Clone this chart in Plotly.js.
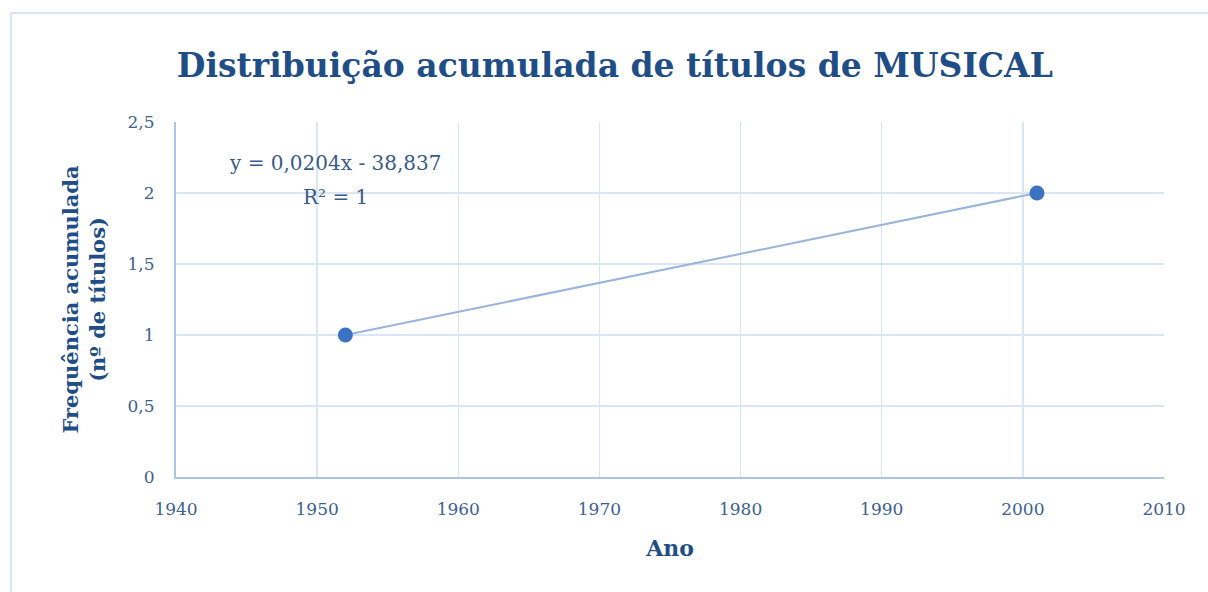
<!DOCTYPE html>
<html>
<head>
<meta charset="utf-8">
<script src="https://cdn.plot.ly/plotly-3.0.1.min.js"></script>
<style>
html,body{margin:0;padding:0;background:#fff;overflow:hidden;}
#chart{width:1208px;height:592px;position:absolute;left:0;top:0;}
#frame{position:absolute;left:10px;top:12px;width:1300px;height:700px;border:2px solid #d9e5f5;pointer-events:none;}
</style>
</head>
<body>
<div id="chart"></div>
<div id="frame"></div>
<script>
const years = [1952, 2001];
const cumulative = [1, 2];
const xTicks = [1940, 1950, 1960, 1970, 1980, 1990, 2000, 2010];
const yTicks = [0, 0.5, 1, 1.5, 2, 2.5];
const equationText = "y = 0,0204x - 38,837";
const r2Text = "R² = 1";

// linear trendline from data
const n = years.length;
const mx = years.reduce((a,b)=>a+b,0)/n;
const my = cumulative.reduce((a,b)=>a+b,0)/n;
let sxy=0, sxx=0;
for(let i=0;i<n;i++){sxy+=(years[i]-mx)*(cumulative[i]-my);sxx+=(years[i]-mx)**2;}
const slope = sxy/sxx, intercept = my - slope*mx;
const trendX = [Math.min(...years), Math.max(...years)];
const trendY = trendX.map(x=>slope*x+intercept);

const font = "DejaVu Serif, Liberation Serif, serif";
const dark = "#1f4e86";
const tickCol = "#3d5f8f";

const data = [
  {x: trendX, y: trendY, mode: 'lines', line: {color: '#98b4da', width: 2}, hoverinfo:'skip', showlegend:false},
  {x: years, y: cumulative, mode: 'markers', marker: {color: '#3b73c2', size: 15}, showlegend:false}
];

const layout = {
  width: 1208, height: 592,
  margin: {l: 176, r: 44, t: 122, b: 115},
  paper_bgcolor: 'rgba(0,0,0,0)', plot_bgcolor: '#fff',
  separators: ', ',
  font: {family: font, color: tickCol, size: 17},
  title: {text: '<b>Distribuição acumulada de títulos de MUSICAL</b>', font: {family: font, size: 33, color: dark},
          x: 0.509, xref: 'container', y: 0.89, yref: 'container', yanchor: 'middle'},
  xaxis: {range: [1940, 2010], tickvals: xTicks, ticktext: xTicks.map(String),
          showgrid: true, gridcolor: '#dbe6f4', gridwidth: 1.5,
          showline: true, linecolor: '#aec4e4', linewidth: 2, zeroline: false,
          ticks: '', ticklabelstandoff: 16,
          tickfont: {size: 17, color: tickCol, family: font},
          title: {text: '<b>Ano</b>', font: {size: 22, color: dark, family: font}, standoff: 22}},
  yaxis: {range: [0, 2.5], tickvals: yTicks,
          showgrid: true, gridcolor: '#dbe6f4', gridwidth: 1.5,
          showline: true, linecolor: '#aec4e4', linewidth: 2, zeroline: false,
          ticks: '', ticklabelstandoff: 16,
          tickfont: {size: 17, color: tickCol, family: font},
          title: {text: '<b>Frequência acumulada<br>(nº de títulos)</b>', font: {size: 21, color: dark, family: font}, standoff: 16}},
  annotations: [
    {x: 1951.3, y: 2.21, xref: 'x', yref: 'y', text: equationText, showarrow: false,
     font: {size: 20, color: '#3a5a8a', family: font}, xanchor: 'center', yanchor: 'middle'},
    {x: 1951.3, y: 1.97, xref: 'x', yref: 'y', text: r2Text, showarrow: false,
     font: {size: 20, color: '#3a5a8a', family: font}, xanchor: 'center', yanchor: 'middle'}
  ]
};

Plotly.newPlot('chart', data, layout, {displayModeBar: false, staticPlot: true});
</script>
</body>
</html>
